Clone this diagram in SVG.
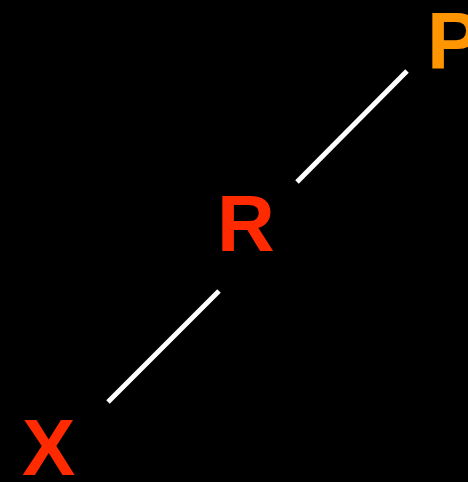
<svg xmlns="http://www.w3.org/2000/svg" width="468" height="482" viewBox="0 0 468 482">
<style>
.lbl{font-family:"Liberation Sans",Arial,sans-serif;font-weight:bold;font-size:80px}
.edge{stroke:#ffffff;stroke-width:5;stroke-linecap:butt}
</style>
<rect width="468" height="482" fill="#000000"/>
<g id="connectors">
<line class="edge" x1="407" y1="71" x2="297" y2="182"/>
<line class="edge" x1="219" y1="291" x2="108" y2="402"/>
</g>
<g id="node-P"><text class="lbl" x="427" y="68" fill="#ff9500">P</text></g>
<g id="node-R"><text class="lbl" x="217" y="251" fill="#ff2a00">R</text></g>
<g id="node-X"><text class="lbl" x="22" y="475" fill="#ff2a00">X</text></g>
</svg>
